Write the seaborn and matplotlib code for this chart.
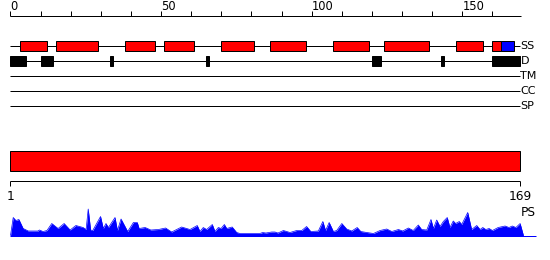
import matplotlib
matplotlib.use("Agg")
import matplotlib.pyplot as plt
import numpy as np
import pandas as pd
import seaborn as sns

# ---------------- data ----------------
seq_len = 169
axis_ticks = list(range(0, 161, 10))
axis_labels = [0, 50, 100, 150]
bottom_labels = [1, 169]

# secondary structure (H = helix, red; E = strand, blue)
ss_start = [3, 15, 38, 51, 70, 86, 107, 124, 148, 160, 163]
ss_end = [12, 29, 48, 61, 81, 98, 119, 139, 157, 163, 167]
ss_type = ["H", "H", "H", "H", "H", "H", "H", "H", "H", "H", "E"]

# disorder
dis_start = [0, 10, 33, 65, 120, 143, 160]
dis_end = [5, 14, 34, 66, 123, 144, 169.3]

track_names = ["SS", "D", "TM", "CC", "SP"]

# PS profile (position, score)
ps_pos = [0.0, 0.9, 1.8, 2.8, 4.2, 5.9, 9.1, 9.6, 10.8, 12.1, 13.7, 15.8, 17.8,
          19.8, 21.7, 24.1, 25.1, 25.8, 26.6, 27.3, 29.9, 30.8, 31.7, 32.5,
          34.7, 35.5, 36.7, 38.9, 40.8, 42.1, 42.7, 44.7, 46.6, 49.1, 51.5,
          53.5, 56.8, 59.6, 62.0, 62.9, 64.0, 65.1, 67.0, 67.9, 69.0, 69.9,
          71.0, 71.8, 73.6, 75.1, 76.2, 82.8, 83.7, 84.8, 86.7, 87.8, 88.8,
          90.6, 92.8, 95.0, 96.7, 98.3, 99.7, 102.2, 103.7, 104.6, 105.8,
          107.2, 108.3, 110.0, 111.6, 113.3, 115.1, 116.3, 118.3, 120.5,
          122.7, 124.9, 126.6, 128.8, 130.2, 132.1, 133.7, 135.4, 136.5,
          138.2, 139.6, 140.4, 141.5, 142.6, 143.7, 145.0, 145.9, 147.0,
          147.8, 149.0, 149.8, 151.8, 153.1, 154.8, 155.9, 156.8, 157.8,
          158.9, 160.0, 161.9, 164.2, 165.5, 166.6, 167.8, 169.2, 170.3]
ps_val = [0, 18, 15, 16, 7, 4.5, 4.5, 5.5, 4, 5, 12, 7, 12,
          5.5, 10, 8, 6, 26.5, 5.5, 5, 19, 7, 12, 8,
          18, 5, 16.5, 4, 13, 13, 7, 8, 5.5, 6, 7.5,
          3.5, 8.5, 6, 10, 4, 8, 6, 11, 4, 8, 7,
          11, 7, 8.5, 3, 2, 2, 3, 2.5, 3.5, 3.5, 2.5,
          5, 3, 5, 5, 9, 4, 4.5, 14, 5, 13,
          4, 5, 12, 6.5, 4.5, 8, 4, 3, 2,
          5, 6.5, 4, 6, 4.5, 7.5, 5, 10.5, 6,
          5.5, 16, 7, 15.5, 9, 14, 18, 8, 14.5,
          12, 14, 11, 23, 6, 10, 6, 8, 6,
          7, 5, 8, 9.5, 8, 9.5, 8, 12, 0]
ps_baseline_end = 174.4

# ---------------- style ----------------
sns.set_theme(style="white")
plt.rcParams["font.family"] = ["DejaVu Sans"]

RED = "#ff0000"
BLUE = "#0000ff"
LW = 0.72  # 1 px

PX = 3.012   # pixels per residue
X0 = 10.5    # pixel of residue 0
W, H = 550, 260
xlim = (-X0 / PX, (W - X0) / PX)

fig = plt.figure(figsize=(5.5, 2.6), dpi=100)
ax = fig.add_axes([0, 0, 1, 1])
ax.set_xlim(*xlim)
ax.set_ylim(H, 0)
ax.axis("off")

# top ruler
ax.hlines(15.5, 0, seq_len + 0.6, color="black", lw=LW)
ax.vlines(axis_ticks, 10.5, 15.5, color="black", lw=LW)
for t in axis_labels:
    ax.text(t, 10, str(t), ha="left", va="baseline", fontsize=8.3, color="black")

# tracks
track_y = {"SS": 45.5, "D": 60.5, "TM": 75.5, "CC": 90.5, "SP": 105.5}
for name in track_names:
    y = track_y[name]
    ax.hlines(y, 0, seq_len + 0.2, color="black", lw=LW, zorder=1)
    ax.text(seq_len + 0.3, y + 0.3, name, ha="left", va="center",
            fontsize=8, color="black")

ss_df = pd.DataFrame({"start": ss_start, "end": ss_end, "type": ss_type})
ss_colors = ss_df["type"].map({"H": RED, "E": BLUE})
ax.barh(track_y["SS"], ss_df["end"] - ss_df["start"], left=ss_df["start"],
        height=10, color=ss_colors, edgecolor="black", linewidth=LW, zorder=2)

dis_df = pd.DataFrame({"start": dis_start, "end": dis_end})
ax.barh(track_y["D"], dis_df["end"] - dis_df["start"], left=dis_df["start"],
        height=10, color="black", edgecolor="black", linewidth=LW, zorder=2)

# full-length bar
ax.barh(160.5, seq_len + 0.3, left=0, height=20, color=RED,
        edgecolor="black", linewidth=LW)

# bottom ruler
ax.hlines(180.5, 0, seq_len + 0.3, color="black", lw=LW)
ax.vlines([0, seq_len + 0.3], 180.5, 185.5, color="black", lw=LW)
ax.text(0, 200, str(bottom_labels[0]), ha="center", va="baseline",
        fontsize=8.8, color="black")
ax.text(seq_len + 0.3, 200, str(bottom_labels[1]), ha="center", va="baseline",
        fontsize=8.8, color="black")
ax.text(seq_len + 0.4, 215.5, "PS", ha="left", va="baseline",
        fontsize=8.8, color="black")

# PS profile axes
base_px = 235.5
top_px = 200
ax_ps = fig.add_axes([0, (H - base_px) / H, 1, (base_px - top_px) / H])
ax_ps.set_xlim(*xlim)
ax_ps.set_ylim(0, base_px - top_px)
ax_ps.axis("off")
ps_df = pd.DataFrame({"pos": ps_pos, "score": ps_val})
ax_ps.fill_between(ps_df["pos"], 0, ps_df["score"], color=BLUE, lw=0)
sns.lineplot(data=ps_df, x="pos", y="score", ax=ax_ps, color=BLUE, lw=0.5,
             estimator=None, sort=False)
ax_ps.hlines(0, 0, ps_baseline_end, color=BLUE, lw=LW, clip_on=False)

fig.savefig("out.png", dpi=100)
